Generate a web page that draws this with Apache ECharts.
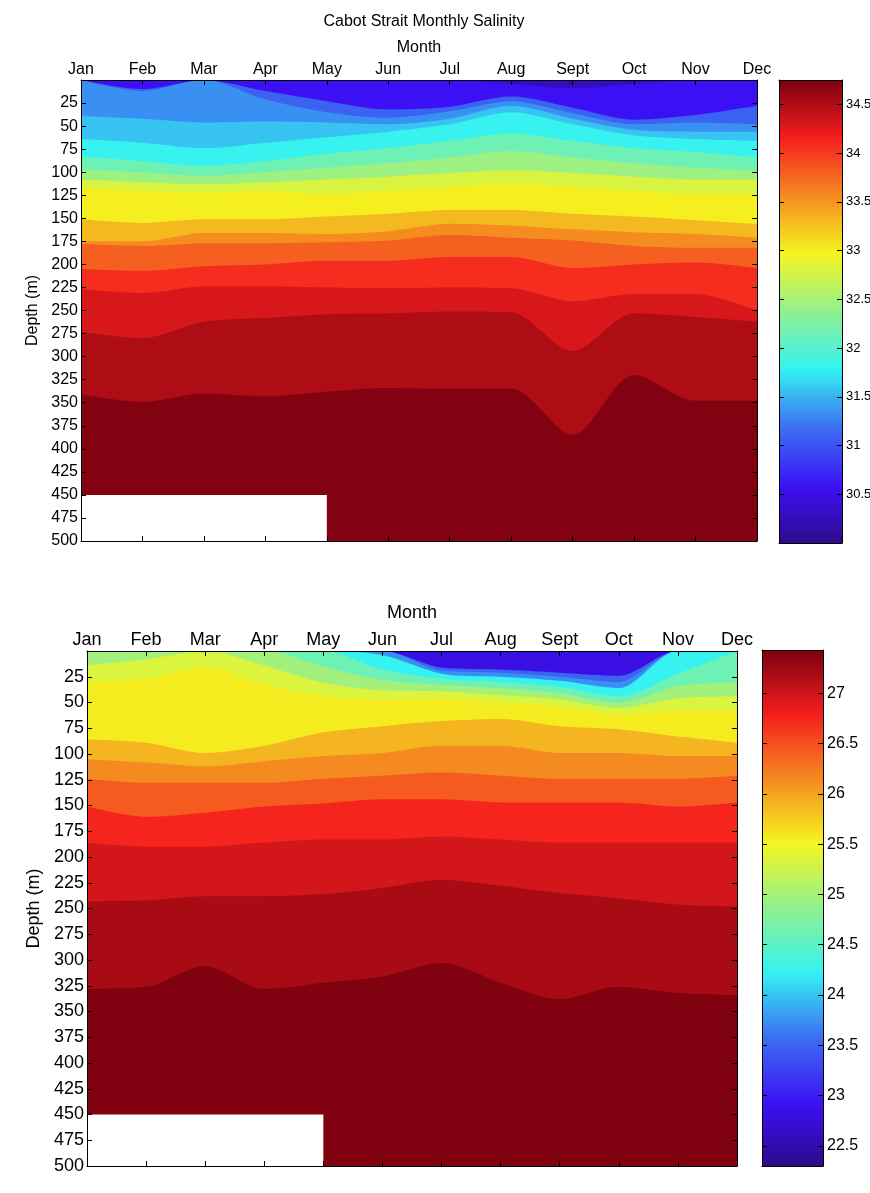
<!DOCTYPE html>
<html>
<head>
<meta charset="utf-8">
<script src="https://cdn.jsdelivr.net/npm/echarts@6/dist/echarts.min.js"></script>
<style>
html, body { margin: 0; padding: 0; background: #fff; }
#main { width: 870px; height: 1193px; }
</style>
</head>
<body>
<div id="main"></div>
<script>
var months = ['Jan', 'Feb', 'Mar', 'Apr', 'May', 'Jun', 'Jul', 'Aug', 'Sept', 'Oct', 'Nov', 'Dec'];

// upper panel: salinity of each filled band and the depth (m) of its upper edge, Jan..Dec
var salRange = [30.0, 34.75];
var salTicks = [30.5, 31, 31.5, 32, 32.5, 33, 33.5, 34, 34.5];
var salBandValues = [30.28, 30.57, 31.1, 31.33, 31.57, 31.8, 32.15, 32.45, 32.8, 33.0, 33.3, 33.55, 33.8, 34.08, 34.3, 34.5, 34.72];
var salBandTops = [
  [0, 0, 0, 0, 0, 0, 0, 0, 0, 0, 0, 0],
  [0, 0, 0, 0, 0, 0, 0, 4, 9, 4, 0, 0],
  [0, 10, 0, 12, 23, 32, 29, 18, 30, 43, 38, 28],
  [0, 12, 0, 21, 35, 41, 34, 23, 36, 48, 46, 48],
  [39, 42, 46, 45, 46, 48, 42, 28, 42, 54, 56, 56],
  [64, 68, 74, 68, 62, 56, 48, 35, 48, 60, 64, 66],
  [83, 88, 93, 88, 80, 74, 66, 58, 66, 74, 78, 84],
  [97, 100, 104, 100, 95, 90, 84, 77, 84, 90, 95, 98],
  [108, 111, 113, 111, 108, 105, 101, 98, 101, 105, 108, 108],
  [117, 120, 122, 120, 124, 120, 116, 112, 116, 120, 124, 124],
  [151, 155, 151, 151, 148, 145, 141, 141, 145, 148, 152, 156],
  [175, 175, 166, 166, 167, 164, 156, 158, 162, 165, 167, 171],
  [178, 180, 177, 177, 176, 174, 168, 171, 174, 180, 182, 182],
  [205, 207, 202, 200, 196, 196, 192, 192, 204, 200, 198, 204],
  [227, 231, 224, 224, 225, 226, 225, 226, 240, 232, 232, 250],
  [273, 280, 262, 258, 254, 253, 251, 252, 294, 253, 257, 262],
  [341, 349, 340, 343, 338, 334, 335, 335, 385, 320, 348, 348]
];

// lower panel
var lowRange = [22.3, 27.43];
var lowTicks = [22.5, 23, 23.5, 24, 24.5, 25, 25.5, 26, 26.5, 27];
var lowBandValues = [22.82, 23.49, 23.74, 24.24, 24.62, 24.98, 25.34, 25.56, 25.89, 26.15, 26.43, 26.75, 26.97, 27.19, 27.41];
var lowBandTops = [
  [0, 0, 0, 0, 0, 0, 0, 0, 0, 0, 0, 0],
  [0, 0, 0, 0, 0, 0, 16, 18, 21, 24, 0, 0],
  [0, 0, 0, 0, 0, 0, 19, 21, 25, 30, 0, 0],
  [0, 0, 0, 0, 0, 4, 22, 25, 29, 36, 0, 0],
  [0, 0, 0, 0, 0, 18, 27, 30, 35, 44, 22, 0],
  [0, 0, 0, 0, 15, 28, 33, 36, 41, 50, 34, 30],
  [14, 8, 0, 14, 31, 38, 39, 43, 47, 55, 46, 44],
  [30, 27, 16, 32, 44, 47, 46, 50, 54, 62, 58, 58],
  [86, 89, 99, 92, 79, 73, 68, 66, 73, 76, 83, 89],
  [105, 108, 112, 107, 102, 99, 92, 92, 99, 99, 102, 102],
  [124, 128, 128, 128, 124, 121, 118, 121, 124, 124, 124, 121],
  [151, 161, 157, 151, 148, 144, 144, 147, 147, 147, 151, 147],
  [186, 190, 190, 186, 183, 183, 180, 183, 186, 186, 186, 186],
  [243, 242, 238, 238, 236, 230, 222, 228, 235, 240, 246, 248],
  [328, 326, 306, 328, 322, 316, 303, 322, 338, 326, 332, 334]
];

// no data below 450 m from Jan to May
var gapMonths = ['Jan', 'May'];
var gapDepths = [450, 500];

var fontFam = 'Liberation Sans, Arial, Helvetica, sans-serif';

// jet-like colormap
var cmapStops = [
  [0, '#2e0a8a'], [0.12, '#3c10f5'], [0.25, '#3c70f2'], [0.375, '#34f2f2'],
  [0.5, '#90f090'], [0.625, '#f5f520'], [0.75, '#f58a20'], [0.875, '#f51e1e'], [1, '#7c0010']
];
function hexRgb(h) {
  return [parseInt(h.slice(1, 3), 16), parseInt(h.slice(3, 5), 16), parseInt(h.slice(5, 7), 16)];
}
function cmap(t) {
  t = Math.max(0, Math.min(1, t));
  for (var i = 1; i < cmapStops.length; i++) {
    if (t <= cmapStops[i][0]) {
      var a = cmapStops[i - 1], b = cmapStops[i];
      var f = (t - a[0]) / (b[0] - a[0]);
      var ca = hexRgb(a[1]), cb = hexRgb(b[1]);
      return 'rgb(' + [0, 1, 2].map(function (k) { return Math.round(ca[k] + (cb[k] - ca[k]) * f); }).join(',') + ')';
    }
  }
  return cmapStops[cmapStops.length - 1][1];
}
function colorOf(v, range) {
  return cmap((v - range[0]) / (range[1] - range[0]));
}
var barStops = [];
for (var i = 0; i <= 64; i++) barStops.push({ offset: i / 64, color: cmap(i / 64) });

function bandSeries(values, tops, range, axisIdx) {
  var list = values.map(function (v, k) {
    return {
      type: 'line',
      xAxisIndex: axisIdx,
      yAxisIndex: axisIdx,
      data: tops[k],
      smooth: 0.3,
      symbol: 'none',
      silent: true,
      lineStyle: { width: 0 },
      areaStyle: { color: colorOf(v, range), opacity: 1, origin: 'end' }
    };
  });
  list[list.length - 1].markArea = {
    silent: true,
    z: 5,
    itemStyle: { color: '#fff' },
    data: [[{ xAxis: gapMonths[0], yAxis: gapDepths[0] }, { xAxis: gapMonths[1], yAxis: gapDepths[1] }]]
  };
  return list;
}

// colour bar: one gradient rect spanning the bar's value range
function colorBarSeries(range, axisIdx) {
  return {
    type: 'custom',
    xAxisIndex: axisIdx,
    yAxisIndex: axisIdx,
    silent: true,
    encode: { x: 0, y: [1, 2] },
    data: [[0, range[0], range[1]]],
    renderItem: function (params, api) {
      var p1 = api.coord([0, api.value(2)]);
      var p2 = api.coord([1, api.value(1)]);
      return {
        type: 'rect',
        shape: { x: p1[0], y: p1[1], width: p2[0] - p1[0], height: p2[1] - p1[1] },
        style: { fill: new echarts.graphic.LinearGradient(0, 1, 0, 0, barStops) }
      };
    }
  };
}

var black = { color: '#000', width: 1 };

function monthAxis(grid, pos, fs, withName, gap) {
  return {
    gridIndex: grid, type: 'category', data: months, boundaryGap: false, position: pos,
    name: withName ? 'Month' : '', nameLocation: 'middle', nameGap: gap,
    nameTextStyle: { fontSize: fs, color: '#000', fontFamily: fontFam },
    axisLine: { show: true, onZero: false, lineStyle: black },
    axisTick: { show: true, inside: true, length: 5, interval: 0, lineStyle: black },
    axisLabel: { show: withName, interval: 0, margin: 2, fontSize: fs, color: '#000', fontFamily: fontFam },
    splitLine: { show: false },
    z: 10
  };
}
function depthAxis(grid, pos, fs, withName, gap) {
  return {
    gridIndex: grid, type: 'value', inverse: true, min: 0, max: 500, interval: 25, position: pos,
    name: withName ? 'Depth (m)' : '', nameLocation: 'middle', nameGap: gap,
    nameTextStyle: { fontSize: fs, color: '#000', fontFamily: fontFam },
    axisLine: { show: true, onZero: false, lineStyle: black },
    axisTick: { show: true, inside: true, length: 5, lineStyle: black },
    axisLabel: {
      show: withName, margin: 3, fontSize: fs, color: '#000', fontFamily: fontFam,
      formatter: function (v) { return v === 0 ? '' : String(v); }
    },
    splitLine: { show: false },
    z: 10
  };
}
function barXAxis(grid, pos) {
  return {
    gridIndex: grid, type: 'value', min: 0, max: 1, position: pos,
    axisLine: { show: true, onZero: false, lineStyle: black },
    axisTick: { show: false }, axisLabel: { show: false }, splitLine: { show: false }, z: 10
  };
}
function barYAxis(grid, pos, range, ticks, fs, withLabels) {
  return {
    gridIndex: grid, type: 'value', min: range[0], max: range[1], position: pos,
    axisLine: { show: true, onZero: false, lineStyle: black },
    axisTick: { show: true, inside: true, length: 5, lineStyle: black, customValues: ticks },
    axisLabel: { show: withLabels, customValues: ticks, margin: 4, fontSize: fs, color: '#000', fontFamily: fontFam },
    splitLine: { show: false }, z: 10
  };
}

var myChart = echarts.init(document.getElementById('main'));
var option = {
  animation: false,
  backgroundColor: '#fff',
  title: {
    text: 'Cabot Strait Monthly Salinity',
    left: 419, top: 9, textAlign: 'center',
    textStyle: { fontSize: 16, fontWeight: 'normal', color: '#000', fontFamily: fontFam }
  },
  grid: [
    { left: 81, top: 80, width: 676, height: 461, outerBoundsMode: 'none' },
    { left: 779, top: 80, width: 63, height: 463, outerBoundsMode: 'none' },
    { left: 87, top: 651, width: 650, height: 515, outerBoundsMode: 'none' },
    { left: 762, top: 650, width: 61, height: 516, outerBoundsMode: 'none' }
  ],
  xAxis: [
    monthAxis(0, 'top', 16, true, 24),
    monthAxis(0, 'bottom', 16, false, 0),
    barXAxis(1, 'top'),
    barXAxis(1, 'bottom'),
    monthAxis(2, 'top', 18, true, 29),
    monthAxis(2, 'bottom', 18, false, 0),
    barXAxis(3, 'top'),
    barXAxis(3, 'bottom')
  ],
  yAxis: [
    depthAxis(0, 'left', 16, true, 40),
    depthAxis(0, 'right', 16, false, 0),
    barYAxis(1, 'left', salRange, salTicks, 13, false),
    barYAxis(1, 'right', salRange, salTicks, 13, true),
    depthAxis(2, 'left', 18, true, 40),
    depthAxis(2, 'right', 18, false, 0),
    barYAxis(3, 'left', lowRange, lowTicks, 16, false),
    barYAxis(3, 'right', lowRange, lowTicks, 16, true)
  ],
  series: bandSeries(salBandValues, salBandTops, salRange, 0)
    .concat(bandSeries(lowBandValues, lowBandTops, lowRange, 4))
    .concat([colorBarSeries(salRange, 2), colorBarSeries(lowRange, 6)])
};
myChart.setOption(option);
</script>
</body>
</html>
